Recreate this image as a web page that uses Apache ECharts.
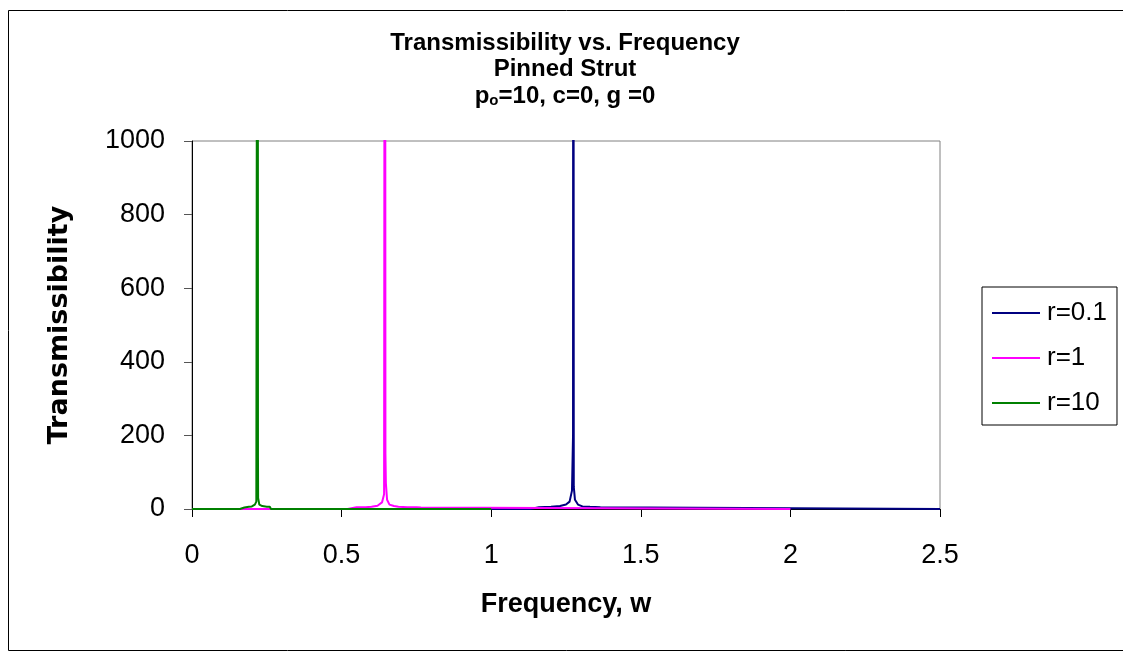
<!DOCTYPE html>
<html>
<head>
<meta charset="utf-8">
<script src="https://cdn.jsdelivr.net/npm/echarts@6/dist/echarts.min.js"></script>
<style>html,body{margin:0;padding:0;background:#fff}#c{width:1123px;height:662px}</style>
</head>
<body>
<div id="c"></div>
<script>
// ---- data ----
const seriesNames = ['r=0.1', 'r=1', 'r=10'];
const seriesColors = ['#000080', '#FF00FF', '#008000'];

// r=0.1
const freqR01 = [0, 1.13, 1.136, 1.16, 1.2, 1.23, 1.25, 1.262, 1.27, 1.2735, 1.2745, 1.276, 1.28, 1.29, 1.305, 1.33, 1.365, 1.37, 2.5];
const transR01 = [0, 0, 4, 5, 6, 8, 12, 20, 50, 200, 3000, 60, 25, 12, 7, 6, 5, 0, 0];

// r=1
const freqR1 = [0, 0.52, 0.523, 0.55, 0.58, 0.60, 0.62, 0.635, 0.642, 0.645, 0.6465, 0.648, 0.652, 0.66, 0.675, 0.69, 0.72, 0.75, 0.765, 0.77, 2.0];
const transR1 = [0, 0, 4, 5, 5, 6, 9, 18, 40, 3000, 150, 70, 25, 12, 8, 6, 5, 5, 4, 0, 0];

// r=10
const freqR10 = [0, 0.16, 0.166, 0.175, 0.19, 0.2, 0.21, 0.215, 0.218, 0.2195, 0.2205, 0.221, 0.225, 0.235, 0.25, 0.26, 0.264, 0.27, 1.0];
const transR10 = [0, 0, 0, 4, 6, 7, 12, 20, 25, 3000, 140, 30, 12, 8, 6, 6, 0, 0, 0];

const xTicks = { min: 0, max: 2.5, interval: 0.5 };
const yTicks = { min: 0, max: 1000, interval: 200 };

const titleLines = ['Transmissibility vs. Frequency', 'Pinned Strut'];
const titleLine3 = ['p', 'o', '=10, c=0, g =0'];
const xName = 'Frequency, w';
const yName = 'Transmissibility';

// ---- build ----
const zip = (xs, ys) => xs.map((x, i) => [x, ys[i]]);
const dataSets = [zip(freqR01, transR01), zip(freqR1, transR1), zip(freqR10, transR10)];

const FONT = '"Liberation Sans", Arial, sans-serif';
const chart = echarts.init(document.getElementById('c'), null, { renderer: 'canvas' });

chart.setOption({
  animation: false,
  backgroundColor: '#fff',
  graphic: [
    { type: 'rect', shape: { x: 8.5, y: 10.5, width: 1200, height: 640 }, style: { fill: 'none', stroke: '#000', lineWidth: 1 }, z: 0 },
    { type: 'text', x: 565, y: 43, style: { text: titleLines[0], font: 'bold 24px ' + FONT, fill: '#000', align: 'center', verticalAlign: 'middle' } },
    { type: 'text', x: 565, y: 69, style: { text: titleLines[1], font: 'bold 24px ' + FONT, fill: '#000', align: 'center', verticalAlign: 'middle' } },
    { type: 'text', x: 565, y: 96, style: {
        text: '{a|' + titleLine3[0] + '}{s|' + titleLine3[1] + '}{a|' + titleLine3[2] + '}',
        align: 'center', verticalAlign: 'middle',
        rich: {
          a: { fontFamily: FONT, fontWeight: 'bold', fontSize: 24, fill: '#000', color: '#000' },
          s: { fontFamily: FONT, fontWeight: 'bold', fontSize: 15, fill: '#000', color: '#000', padding: [10, 0, 0, 0] }
        } } }
  ],
  legend: {
    orient: 'vertical',
    left: 982, top: 287,
    padding: [13, 10, 9, 10],
    borderColor: '#000', borderWidth: 1,
    icon: 'rect',
    itemWidth: 48, itemHeight: 2, itemGap: 19,
    textStyle: { fontFamily: FONT, fontSize: 26, color: '#000', padding: [0, 0, 0, 2] },
    data: seriesNames
  },
  grid: {
    left: 192, right: 183, top: 141, bottom: 153,
    show: true, borderColor: '#808080', borderWidth: 1, backgroundColor: 'transparent'
  },
  xAxis: {
    type: 'value', min: xTicks.min, max: xTicks.max, interval: xTicks.interval,
    name: xName, nameLocation: 'middle', nameGap: 82,
    nameTextStyle: { fontFamily: FONT, fontSize: 27, fontWeight: 'bold', color: '#000' },
    axisLine: { show: true, onZero: false, lineStyle: { color: '#000', width: 1 } },
    axisTick: { show: true, length: 8, inside: false, lineStyle: { color: '#000' } },
    axisLabel: { fontFamily: FONT, fontSize: 27, color: '#000', margin: 33 },
    splitLine: { show: false }
  },
  yAxis: {
    type: 'value', min: yTicks.min, max: yTicks.max, interval: yTicks.interval,
    name: yName, nameLocation: 'middle', nameGap: 119, nameRotate: 90,
    nameTextStyle: { fontFamily: '"DejaVu Sans", sans-serif', fontSize: 27, fontWeight: 'bold', color: '#000' },
    axisLine: { show: true, lineStyle: { color: '#000', width: 1 } },
    axisTick: { show: true, length: 8, inside: false, lineStyle: { color: '#555' } },
    axisLabel: { fontFamily: FONT, fontSize: 27, color: '#000', margin: 27, formatter: v => String(v) },
    splitLine: { show: false }
  },
  series: seriesNames.map((n, i) => ({
    name: n, type: 'line', data: dataSets[i],
    symbol: 'none', showSymbol: false, clip: true,
    lineStyle: { color: seriesColors[i], width: 2 },
    itemStyle: { color: seriesColors[i] },
    z: 2 + i
  }))
});
</script>
</body>
</html>
